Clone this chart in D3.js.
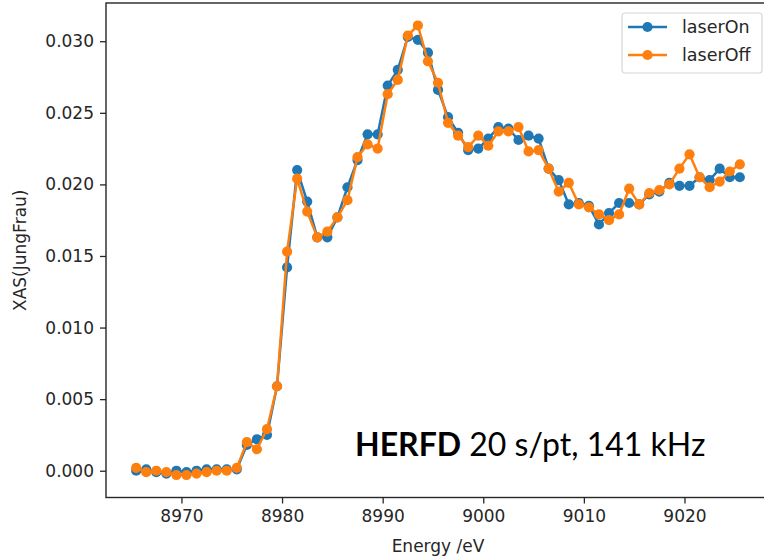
<!DOCTYPE html>
<html>
<head>
<meta charset="utf-8">
<script src="https://cdn.jsdelivr.net/npm/d3@7"></script>
<style>
  body { margin: 0; background: #fff; }
  svg { display: block; }
</style>
</head>
<body>
<div id="chart"></div>
<script>
// energy grid, 1 eV steps
const energy = d3.range(8965.5, 9026, 1);

const laserOn = [
  0.0000, 0.0001, -0.0001, -0.0002, 0.0000, -0.0001, 0.0000, 0.0001, 0.0001, 0.0001,
  0.0001, 0.0018, 0.0022, 0.0025, 0.0059, 0.0142, 0.0210, 0.0188, 0.0163, 0.0163,
  0.0177, 0.0198, 0.0217, 0.0235, 0.0235, 0.0269, 0.0280, 0.0303, 0.0301, 0.0292,
  0.0266, 0.0247, 0.0236, 0.0224, 0.0225, 0.0232, 0.0240, 0.0239, 0.0231, 0.0234,
  0.0232, 0.0211, 0.0203, 0.0186, 0.0187, 0.0185, 0.0172, 0.0180, 0.0187, 0.0187,
  0.0186, 0.0193, 0.0195, 0.0201, 0.0199, 0.0199, 0.0205, 0.0203, 0.0211, 0.0205,
  0.0205
];

const laserOff = [
  0.0002, -0.0001, 0.0000, -0.0001, -0.0003, -0.0003, -0.0002, -0.0001, 0.0000, 0.0000,
  0.0002, 0.0020, 0.0015, 0.0029, 0.0059, 0.0153, 0.0204, 0.0181, 0.0163, 0.0167,
  0.0177, 0.0189, 0.0219, 0.0228, 0.0225, 0.0263, 0.0273, 0.0304, 0.0311, 0.0286,
  0.0271, 0.0243, 0.0234, 0.0226, 0.0234, 0.0227, 0.0237, 0.0237, 0.0240, 0.0223,
  0.0224, 0.0211, 0.0195, 0.0201, 0.0186, 0.0184, 0.0179, 0.0175, 0.0179, 0.0197,
  0.0186, 0.0194, 0.0196, 0.0200, 0.0211, 0.0221, 0.0205, 0.0198, 0.0202, 0.0209,
  0.0214
];

const xTicks = [8970, 8980, 8990, 9000, 9010, 9020];
const yTicks = [0.000, 0.005, 0.010, 0.015, 0.020, 0.025, 0.030];

const series = [
  { label: 'laserOn', values: laserOn, color: '#1f77b4' },
  { label: 'laserOff', values: laserOff, color: '#ff7f0e' },
];

const W = 764, H = 558;
const margin = { top: 3, right: -6, bottom: 60.5, left: 106 };
const width = W - margin.left - margin.right,
  height = H - margin.top - margin.bottom;
const font = 'DejaVu Sans, sans-serif';
const textColor = '#262626';

const svg = d3.select('#chart')
  .append('svg')
  .attr('width', W)
  .attr('height', H);

// matplotlib style 5% padding
const pad = (ext) => {
  const d = ext[1] - ext[0];
  return [ext[0] - 0.05 * d, ext[1] + 0.05 * d];
};
const xExt = d3.extent(energy);
const yExt = d3.extent(laserOn.concat(laserOff));

const x = d3.scaleLinear().domain(pad(xExt)).range([0, width]);
const y = d3.scaleLinear().domain(pad(yExt)).range([height, 0]);

const g = svg.append('g').attr('transform', `translate(${margin.left},${margin.top})`);

// axes
const xAxis = g.append('g')
  .attr('transform', `translate(0,${height})`)
  .call(d3.axisBottom(x).tickValues(xTicks).tickFormat(d3.format('d')).tickSize(6).tickPadding(6));
const yAxis = g.append('g')
  .call(d3.axisLeft(y).tickValues(yTicks).tickFormat(d3.format('.3f')).tickSize(6).tickPadding(6));

for (const ax of [xAxis, yAxis]) {
  ax.select('.domain').remove();
  ax.selectAll('line').attr('stroke', textColor).attr('stroke-width', 1.3);
  ax.selectAll('text').attr('fill', textColor).style('font-family', font).style('font-size', '17px');
}

// frame
g.append('rect')
  .attr('x', 0).attr('y', 0)
  .attr('width', width).attr('height', height)
  .attr('fill', 'none')
  .attr('stroke', textColor)
  .attr('stroke-width', 1.4);

const line = d3.line()
  .x((d, i) => x(energy[i]))
  .y((d) => y(d));

for (const s of series) {
  g.append('path')
    .datum(s.values)
    .attr('fill', 'none')
    .attr('stroke', s.color)
    .attr('stroke-width', 2.5)
    .attr('stroke-linejoin', 'round')
    .attr('d', line);
  g.append('g')
    .selectAll('circle')
    .data(s.values)
    .join('circle')
    .attr('cx', (d, i) => x(energy[i]))
    .attr('cy', (d) => y(d))
    .attr('r', 5.1)
    .attr('fill', s.color);
}

// axis labels
svg.append('text')
  .attr('x', margin.left + width / 2)
  .attr('y', 552)
  .attr('text-anchor', 'middle')
  .attr('fill', textColor)
  .style('font-family', font)
  .style('font-size', '17px')
  .text('Energy /eV');

svg.append('text')
  .attr('transform', `translate(26,${margin.top + height / 2}) rotate(-90)`)
  .attr('text-anchor', 'middle')
  .attr('fill', textColor)
  .style('font-family', font)
  .style('font-size', '17px')
  .text('XAS(JungFrau)');

// clipped leftover at the left edge
svg.append('text')
  .attr('x', -6).attr('y', 511)
  .attr('fill', textColor)
  .style('font-family', font)
  .style('font-size', '17px')
  .text(')');

// legend
const lg = svg.append('g').attr('transform', 'translate(622,13)');
lg.append('rect')
  .attr('width', 140).attr('height', 60)
  .attr('rx', 3)
  .attr('fill', '#fff')
  .attr('fill-opacity', 0.8)
  .attr('stroke', '#d6d6d6')
  .attr('stroke-width', 1.2);
series.forEach((s, i) => {
  const row = lg.append('g').attr('transform', `translate(0,${14 + i * 28})`);
  row.append('line')
    .attr('x1', 6).attr('x2', 45)
    .attr('stroke', s.color).attr('stroke-width', 2.5);
  row.append('circle').attr('cx', 25.5).attr('r', 5.1).attr('fill', s.color);
  row.append('text')
    .attr('x', 60).attr('dy', '0.35em')
    .attr('fill', textColor)
    .style('font-family', font)
    .style('font-size', '17.5px')
    .text(s.label);
});

// annotation
const note = svg.append('text')
  .attr('x', 355).attr('y', 456)
  .attr('fill', '#000')
  .style('font-family', 'Lato, sans-serif')
  .style('font-size', '32px');
note.append('tspan').style('font-weight', 'bold').text('HERFD');
note.append('tspan').text(' 20 s/pt, 141 kHz');
</script>
</body>
</html>
